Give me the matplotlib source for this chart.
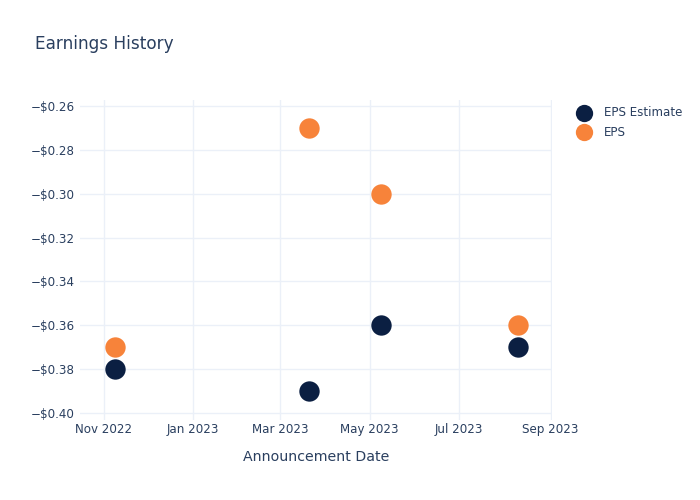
import matplotlib
matplotlib.use("Agg")
import matplotlib.pyplot as plt
import matplotlib.dates as mdates
from matplotlib.ticker import FuncFormatter, FixedLocator
import numpy as np
import datetime as dt

dates = ["2022-11-09", "2023-03-21", "2023-05-09", "2023-08-10"]
eps_estimate = [-0.38, -0.39, -0.36, -0.37]
eps_actual = [-0.37, -0.27, -0.30, -0.36]
x_ticks = ["2022-11-01", "2023-01-01", "2023-03-01", "2023-05-01", "2023-07-01", "2023-09-01"]
y_ticks = [-0.26, -0.28, -0.30, -0.32, -0.34, -0.36, -0.38, -0.40]

TEXT = "#2a3f5f"
GRID = "#ebf0f8"
NAVY = "#0b1f42"
ORANGE = "#f7833a"

plt.rcParams['font.family'] = ['DejaVu Sans']

fig = plt.figure(figsize=(7, 5), dpi=100)
ax = fig.add_axes([80/700, 80/500, 472/700, 320/500])

xd = [dt.datetime.fromisoformat(d) for d in dates]
ax.scatter(xd, eps_estimate, s=215, color=NAVY, zorder=3, linewidths=0, label="EPS Estimate")
ax.scatter(xd, eps_actual, s=215, color=ORANGE, zorder=3, linewidths=0, label="EPS")

ax.set_xlim(dt.datetime(2022, 10, 16), dt.datetime(2023, 9, 2))
ax.set_ylim(-0.4032, -0.2573)

ax.xaxis.set_major_locator(FixedLocator([mdates.date2num(dt.datetime.fromisoformat(d)) for d in x_ticks]))
ax.xaxis.set_major_formatter(mdates.DateFormatter("%b %Y"))
ax.yaxis.set_major_locator(FixedLocator(y_ticks))
ax.yaxis.set_major_formatter(FuncFormatter(lambda v, p: ("\u2212" if v < 0 else "") + "$%.2f" % abs(v)))

for s in ax.spines.values():
    s.set_visible(False)
ax.grid(True, color=GRID, linewidth=1)
ax.set_axisbelow(True)
ax.tick_params(length=0, labelsize=8.6, colors=TEXT, pad=4)
ax.tick_params(axis='x', pad=2)

ax.set_xlabel("Announcement Date", fontsize=10.2, color=TEXT, labelpad=10)

fig.text(35/700, 1 - 44/500, "Earnings History", fontsize=12.2, color=TEXT, va="center", ha="left")

leg = fig.legend(loc="upper left", bbox_to_anchor=(572/700, 1 - 106/500), frameon=False,
                 fontsize=8.6, labelcolor=TEXT, handletextpad=0.7, labelspacing=0.55,
                 markerscale=0.85, borderaxespad=0, borderpad=0)

fig.savefig("out.png", dpi=100)
